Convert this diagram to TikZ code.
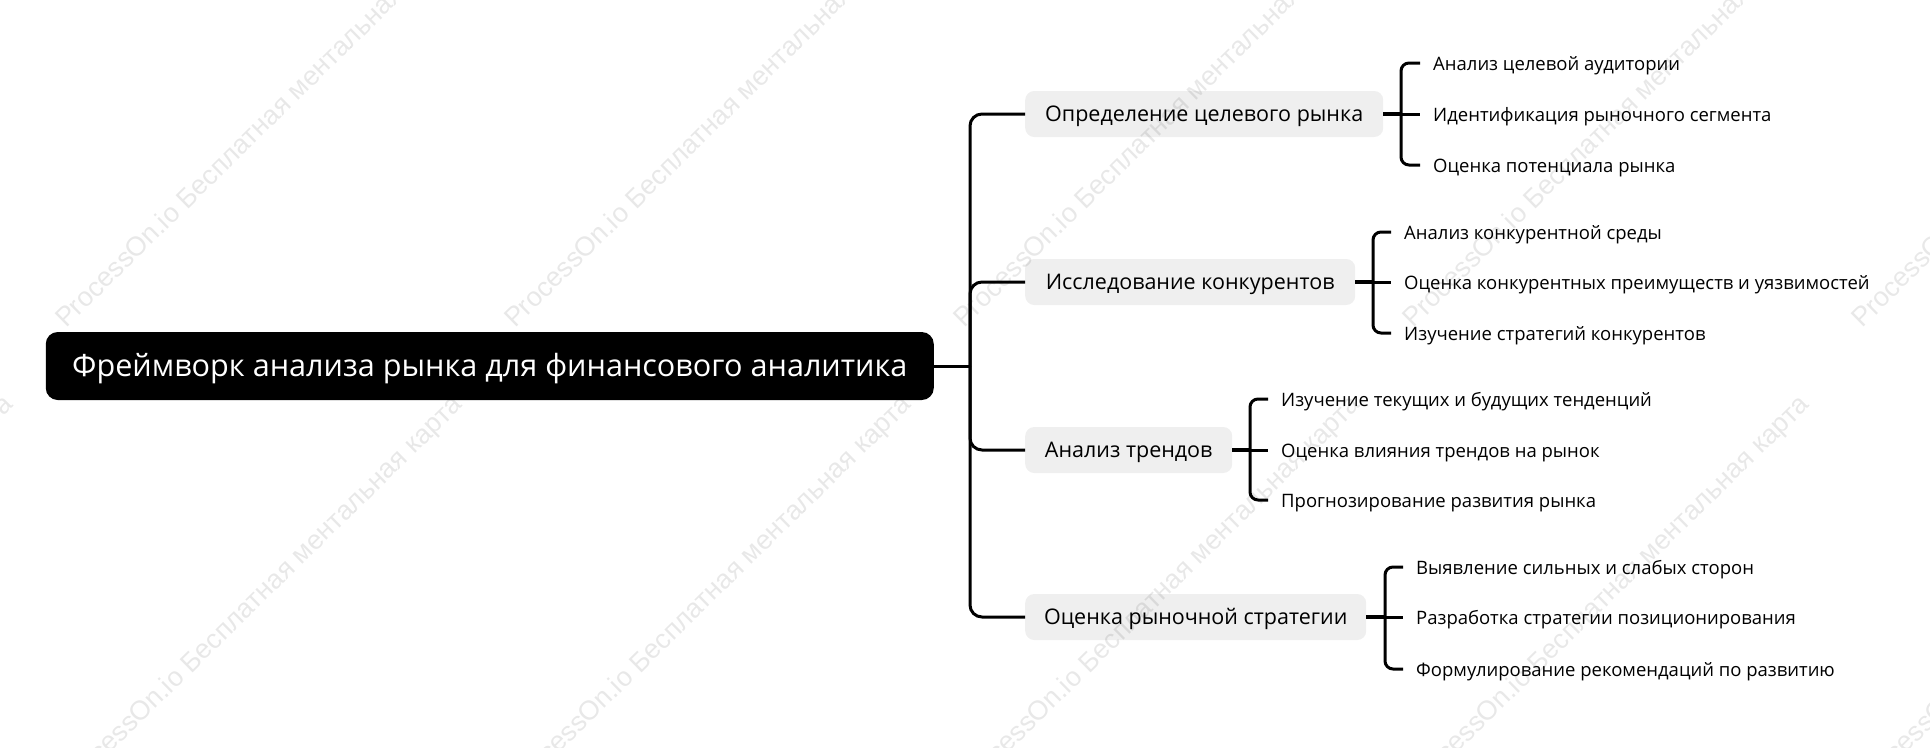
\documentclass[tikz,border=0pt]{standalone}
\usepackage{fontspec}
\setmainfont{Open Sans}
\newfontfamily\wmfont{Liberation Sans}
\definecolor{topicgray}{HTML}{EFEFEF}
\begin{document}
\begin{tikzpicture}[x=1pt,y=-1pt,
  rootbox/.style={fill=black, rounded corners=12pt, minimum width=888pt, minimum height=68pt, text=white, font=\fontsize{30.6}{36}\selectfont, inner sep=0pt, text height=27.5pt, text depth=7.5pt},
  topicbox/.style={fill=topicgray, rounded corners=9pt, minimum height=46pt, inner sep=0pt, font=\fontsize{21.5}{26}\selectfont, anchor=west, text height=20.5pt, text depth=5.3pt},
  leaf/.style={anchor=west, inner xsep=13pt, inner ysep=0pt, font=\fontsize{18.5}{22}\selectfont, text height=19.5pt, text depth=4.6pt},
  conn/.style={line width=3pt, rounded corners=12pt},
  brack/.style={line width=3pt, rounded corners=8pt},
  stub/.style={line width=4pt},
  wm/.style={rotate=44.5, anchor=base west, font=\wmfont\fontsize{27}{32}\selectfont, text=black, opacity=0.09, inner sep=0pt}]

\useasboundingbox (0,0) rectangle (1930,747);

% root
\node[rootbox] (root) at (489.75,366) {Фреймворк анализа рынка для финансового аналитика};
\coordinate (j) at (970,366);

% topics
\node[topicbox, minimum width=358pt] (t1) at (1025,114) {Определение целевого рынка};
\node[topicbox, minimum width=330pt] (t2) at (1025,282) {Исследование конкурентов};
\node[topicbox, minimum width=207pt] (t3) at (1025,450) {Анализ трендов};
\node[topicbox, minimum width=341pt] (t4) at (1025,617) {Оценка рыночной стратегии};

\draw[conn] (root.east) -- (j);
\draw[conn] (j) |- (t1.west);
\draw[conn] (j) |- (t2.west);
\draw[conn] (j) |- (t3.west);
\draw[conn] (j) |- (t4.west);

% leaves group 1
\node[leaf] (l11) at (1420,63) {Анализ целевой аудитории};
\node[leaf] (l12) at (1420,114) {Идентификация рыночного сегмента};
\node[leaf] (l13) at (1420,165) {Оценка потенциала рынка};
\coordinate (k1) at (1401,114);
\draw[stub] (t1.east) -- (k1);
\draw[brack] (l11.west) -| (k1) |- (l13.west);
\draw[brack] (k1) -- (l12.west);

% leaves group 2
\node[leaf] (l21) at (1391,232) {Анализ конкурентной среды};
\node[leaf] (l22) at (1391,282) {Оценка конкурентных преимуществ и уязвимостей};
\node[leaf] (l23) at (1391,333) {Изучение стратегий конкурентов};
\coordinate (k2) at (1373,282);
\draw[stub] (t2.east) -- (k2);
\draw[brack] (l21.west) -| (k2) |- (l23.west);
\draw[brack] (k2) -- (l22.west);

% leaves group 3
\node[leaf] (l31) at (1268,399) {Изучение текущих и будущих тенденций};
\node[leaf] (l32) at (1268,450) {Оценка влияния трендов на рынок};
\node[leaf] (l33) at (1268,500) {Прогнозирование развития рынка};
\coordinate (k3) at (1250,450);
\draw[stub] (t3.east) -- (k3);
\draw[brack] (l31.west) -| (k3) |- (l33.west);
\draw[brack] (k3) -- (l32.west);

% leaves group 4
\node[leaf] (l41) at (1403,567) {Выявление сильных и слабых сторон};
\node[leaf] (l42) at (1403,617) {Разработка стратегии позиционирования};
\node[leaf] (l43) at (1403,669) {Формулирование рекомендаций по развитию};
\coordinate (k4) at (1385,617);
\draw[stub] (t4.east) -- (k4);
\draw[brack] (l41.west) -| (k4) |- (l43.west);
\draw[brack] (k4) -- (l42.west);

% watermarks
\foreach \k in {0,...,4} {
  \node[wm] at ({66+449*\k},329) {ProcessOn.io Бесплатная ментальная карта};
}
\foreach \k in {-1,...,4} {
  \node[wm] at ({70+449*\k},793) {ProcessOn.io Бесплатная ментальная карта};
}
\end{tikzpicture}
\end{document}
